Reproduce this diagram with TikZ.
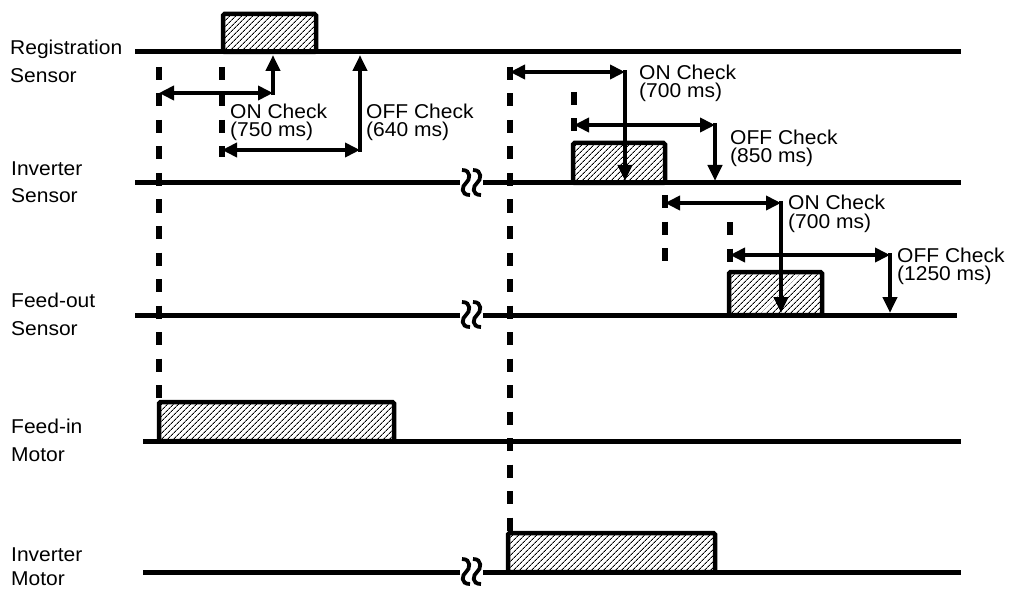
\documentclass[tikz,border=0pt]{standalone}
\usepackage{fontspec}
\setmainfont{Liberation Sans}[FakeStretch=1.05]
\usetikzlibrary{arrows.meta, patterns.meta}

\begin{document}
\begin{tikzpicture}[x=1pt, y=-1pt,
  sig/.style={line width=5pt},
  pulse/.style={line width=4.5pt, rounded corners=1.5pt,
                pattern={Lines[angle=45, distance=4pt, line width=0.9pt]}},
  guide/.style={line width=5.5pt, dash pattern=on 13pt off 13.5pt},
  harr/.style={{Triangle[length=15pt,width=14pt]}-{Triangle[length=15pt,width=14pt]}, line width=4.5pt},
  varr/.style={-{Triangle[length=16pt,width=14pt]}, line width=4.5pt, line cap=rect},
  lbl/.style={anchor=base west, inner sep=0pt, align=left, font=\fontsize{20}{28}\selectfont},
  chk/.style={anchor=base west, inner sep=0pt, align=left, font=\fontsize{20}{18}\selectfont},
]
\useasboundingbox (0,0) rectangle (1010,591);

% Signal names (anchored on the second line)
\node[lbl] (regLbl) at (10,83) {Registration\\Sensor};
\node[lbl] (invLbl) at (11,203) {Inverter\\Sensor};
\node[lbl] (outLbl) at (11,335) {Feed-out\\Sensor};
\node[lbl] (finLbl) at (11,461) {Feed-in\\Motor};
\node[lbl, font=\fontsize{20}{24}\selectfont] (invmLbl) at (11,585) {Inverter\\Motor};

% Pulses
\draw[pulse] (223,52) rectangle (316,14);
\draw[pulse] (573,183) rectangle (665,143);
\draw[pulse] (729,315) rectangle (822,272);
\draw[pulse] (159,441) rectangle (394,402);
\draw[pulse] (508,572) rectangle (715,533);

% Time lines
\draw[sig] (135,52) -- (961,52);
\draw[sig] (135,183) -- (961,183);
\draw[sig] (135,315) -- (957,315);
\draw[sig] (143,441) -- (961,441);
\draw[sig] (143,572) -- (961,572);

% Break marks
\foreach \y in {183,315,572} {
  \fill[white] (460,\y-5) rectangle (483,\y+5);
  \foreach \x in {466,477}
    \draw[line width=3.8pt] (\x-4,\y-13) .. controls (\x+6,\y-13) and (\x+4,\y-3) .. (\x,\y)
      .. controls (\x-4,\y+3) and (\x-6,\y+12) .. (\x+4,\y+12);
}

% Event coordinates
\coordinate (feedT) at (159,67);   \coordinate (feedB) at (159,400);
\coordinate (regT) at (222,67);    \coordinate (regB) at (222,157);
\coordinate (invT) at (510,67);    \coordinate (invB) at (510,531);
\coordinate (iOnT) at (574,92);    \coordinate (iOnB) at (574,143);
\coordinate (oRdyT) at (665,195);  \coordinate (oRdyB) at (665,262);
\coordinate (oOnT) at (730,222);   \coordinate (oOnB) at (730,272);

% Guides
\draw[guide] (feedT) -- (feedB);
\draw[guide] (regT) -- (regB);
\draw[guide] (invT) -- (invB);
\draw[guide] (iOnT) -- (iOnB);
\draw[guide] (oRdyT) -- (oRdyB);
\draw[guide] (oOnT) -- (oOnB);

% Check arrows
\coordinate (c1s) at (159,93);  \coordinate (c1k) at (273,93);  \coordinate (c1e) at (273,55);
\coordinate (c2s) at (222,150); \coordinate (c2k) at (360,150); \coordinate (c2e) at (360,55);
\coordinate (c3s) at (510,72);  \coordinate (c3k) at (625,72);  \coordinate (c3e) at (625,181);
\coordinate (c4s) at (574,125); \coordinate (c4k) at (715,125); \coordinate (c4e) at (715,181);
\coordinate (c5s) at (665,203); \coordinate (c5k) at (781,203); \coordinate (c5e) at (781,313);
\coordinate (c6s) at (730,255); \coordinate (c6k) at (890,255); \coordinate (c6e) at (890,313);
\foreach \i in {1,...,6} {
  \draw[harr] (c\i s) -- (c\i k);
  \draw[varr] (c\i k) -- (c\i e);
}

% Check labels (anchored on the second line)
\node[chk] (regOnLbl) at (230,137) {ON Check\\(750 ms)};
\node[chk] (regOffLbl) at (366,137) {OFF Check\\(640 ms)};
\node[chk] (invOnLbl) at (639,98) {ON Check\\(700 ms)};
\node[chk] (invOffLbl) at (730,163) {OFF Check\\(850 ms)};
\node[chk] (outOnLbl) at (788,228) {ON Check\\(700 ms)};
\node[chk] (outOffLbl) at (897,280) {OFF Check\\(1250 ms)};

\end{tikzpicture}
\end{document}
